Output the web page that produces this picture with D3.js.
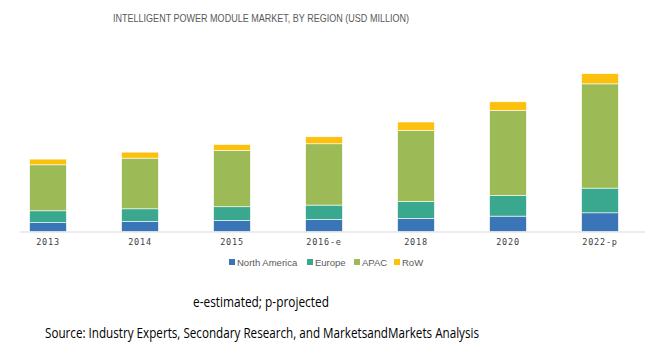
<!DOCTYPE html>
<html>
<head>
<meta charset="utf-8">
<script src="https://cdn.jsdelivr.net/npm/d3@7"></script>
<style>
  body { margin: 0; background: #fff; }
  svg { display: block; }
</style>
</head>
<body>
<div id="chart"></div>
<script>
// data (USD million)
var years    = ["2013", "2014", "2015", "2016-e", "2018", "2020", "2022-p"];
var regions  = ["North America", "Europe", "APAC", "RoW"];
var northAm  = [130, 145, 160, 174, 189, 223, 271];
var europe   = [170, 184, 199, 209, 247, 299, 358];
var apac     = [667, 735, 816, 889, 1030, 1233, 1512];
var row      = [83, 87, 87, 102, 122, 126, 149];

const width = 650, height = 351;
const baseY = 231.5;

const svg = d3.select("#chart")
              .append("svg")
              .attr("width", width)
              .attr("height", height);

var table = years.map(function(y, i) {
  return { year: y, "North America": northAm[i], "Europe": europe[i], "APAC": apac[i], "RoW": row[i] };
});

var color = d3.scaleOrdinal()
  .domain(regions)
  .range(["#3a75b7", "#39a88f", "#9cba55", "#fcc00f"]);

var x = d3.scaleBand()
  .domain(years)
  .range([2, 646])
  .paddingInner(0.6)
  .paddingOuter(0.3);

var y = d3.scaleLinear()
  .domain([0, 2400])
  .range([baseY, 66]);

var stacked = d3.stack().keys(regions)(table);

// title
svg.append("text")
  .attr("x", 261).attr("y", 22)
  .attr("text-anchor", "middle")
  .attr("textLength", 296)
  .attr("lengthAdjust", "spacingAndGlyphs")
  .style("font-family", "Liberation Sans, Arial, sans-serif")
  .style("font-size", "11px")
  .style("fill", "#595959")
  .text("INTELLIGENT POWER MODULE MARKET, BY REGION (USD MILLION)");

// bars
svg.append("g").selectAll("g")
  .data(stacked)
  .enter().append("g")
  .attr("fill", function(d) { return color(d.key); })
  .selectAll("rect")
  .data(function(d) { return d; })
  .enter().append("rect")
  .attr("x", function(d) { return x(d.data.year); })
  .attr("width", x.bandwidth())
  .attr("y", function(d) { return y(d[1]); })
  .attr("height", function(d) { return y(d[0]) - y(d[1]); })
  .attr("stroke", "#ffffff")
  .attr("stroke-width", 0.6);

// x axis
var xAxis = svg.append("g")
  .attr("transform", "translate(0," + baseY + ")")
  .call(d3.axisBottom(x).tickSize(0).tickPadding(7));
xAxis.select(".domain")
  .attr("d", "M20,0.5H645")
  .attr("stroke", "#d9d9d9");
xAxis.selectAll("text")
  .style("font-family", "DejaVu Sans Mono, monospace")
  .style("font-size", "8.5px")
  .style("letter-spacing", "0.8px")
  .style("fill", "#404040");

// legend
var legendX = [229, 307, 354, 394];
var legend = svg.append("g").selectAll("g")
  .data(regions)
  .enter().append("g")
  .attr("transform", function(d, i) { return "translate(" + legendX[i] + ",262)"; });
legend.append("rect")
  .attr("x", 0).attr("y", -3)
  .attr("width", 6).attr("height", 6)
  .attr("fill", function(d) { return color(d); });
legend.append("text")
  .attr("x", 8).attr("y", 3.5)
  .style("font-family", "Liberation Sans, Arial, sans-serif")
  .style("font-size", "9.5px")
  .style("fill", "#595959")
  .text(function(d) { return d; });

// notes
svg.append("text")
  .attr("x", 261).attr("y", 307)
  .attr("text-anchor", "middle")
  .attr("textLength", 136)
  .attr("lengthAdjust", "spacingAndGlyphs")
  .style("font-family", "Open Sans, sans-serif")
  .style("font-size", "14px")
  .style("fill", "#000")
  .text("e-estimated; p-projected");

svg.append("text")
  .attr("x", 262).attr("y", 338)
  .attr("text-anchor", "middle")
  .attr("textLength", 434)
  .attr("lengthAdjust", "spacingAndGlyphs")
  .style("font-family", "Open Sans, sans-serif")
  .style("font-size", "14px")
  .style("fill", "#000")
  .text("Source: Industry Experts, Secondary Research, and MarketsandMarkets Analysis");
</script>
</body>
</html>
